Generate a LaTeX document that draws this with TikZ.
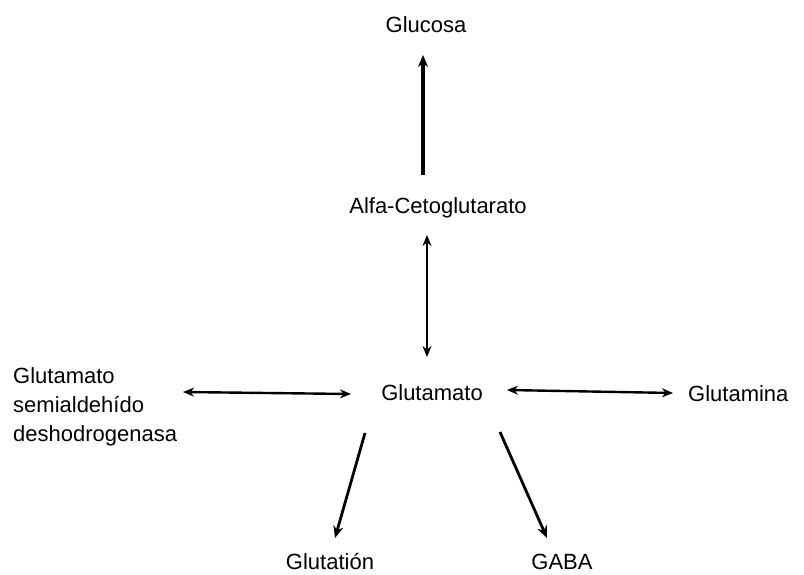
\documentclass[tikz,border=0pt]{standalone}
\usepackage{fontspec}
\setmainfont{Liberation Sans}
\usetikzlibrary{arrows.meta}
\begin{document}
\begin{tikzpicture}[x=1pt,y=-1pt,
  lbl/.style={inner sep=0pt,font=\fontsize{22}{29}\selectfont},
  conn/.style={line width=2.4pt,{Stealth[length=11pt,width=9pt]}-{Stealth[length=11pt,width=9pt]}},
  oneway/.style={line width=2.8pt,-{Stealth[length=12pt,width=10pt]}}]
\useasboundingbox (0,0) rectangle (804,575);
\node[lbl] (glc) at (426,25) {Glucosa};
\node[lbl] (akg) at (438,208) {Alfa-Cetoglutarato};
\node[lbl] (glu) at (432,393) {Glutamato};
\node[lbl,anchor=west] (gab) at (688,394) {Glutamina};
\node[lbl,anchor=west,align=left] (gsd) at (13,407) {Glutamato\\semialdehído\\deshodrogenasa};
\node[lbl] (gsh) at (330,562) {Glutatión};
\node[lbl] (gaba) at (562,562) {GABA};
\coordinate (a1) at (423,175);
\coordinate (a2) at (423,55);
\draw[oneway,line width=3.2pt] (a1) -- (a2);
\coordinate (b1) at (427,235);
\coordinate (b2) at (427,357);
\draw[conn] (b1) -- (b2);
\coordinate (c1) at (183,392);
\coordinate (c2) at (351,394);
\draw[conn] (c1) -- (c2);
\coordinate (d1) at (507,390);
\coordinate (d2) at (673,393);
\draw[conn] (d1) -- (d2);
\coordinate (e1) at (365,433);
\coordinate (e2) at (335,538);
\draw[oneway] (e1) -- (e2);
\coordinate (f1) at (500,432);
\coordinate (f2) at (547,538);
\draw[oneway] (f1) -- (f2);
\end{tikzpicture}
\end{document}
